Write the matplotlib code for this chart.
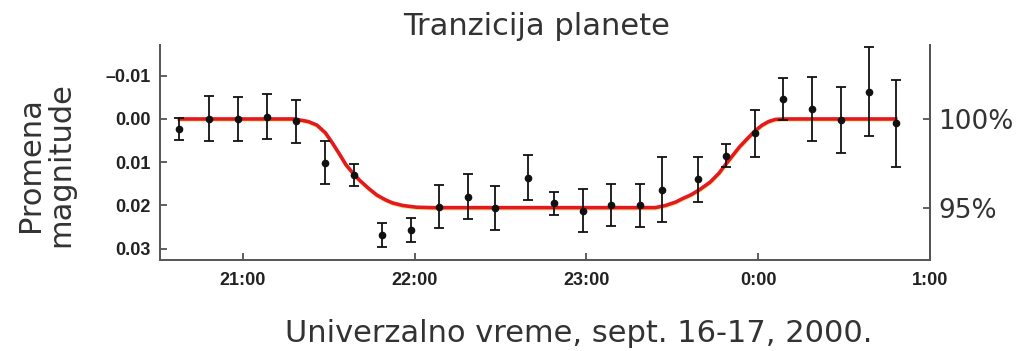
import matplotlib
matplotlib.use("Agg")
import matplotlib.pyplot as plt
import matplotlib.patheffects as pe

# Merenja: vreme (UT, sati; 24 = ponoc), promena magnitude, greska
vreme = [20.63, 20.80, 20.97, 21.14, 21.31, 21.48, 21.645, 21.81, 21.98, 22.14,
         22.31, 22.47, 22.66, 22.81, 22.98, 23.145, 23.31, 23.44, 23.65, 23.81,
         23.98, 24.145, 24.31, 24.48, 24.645, 24.80]
magnituda = [0.0023, 0.0, 0.0, -0.0005, 0.0005, 0.0101, 0.0130, 0.0268, 0.0256, 0.0203,
             0.0180, 0.0206, 0.0136, 0.0195, 0.0212, 0.0199, 0.0200, 0.0164, 0.0139, 0.0085,
             0.0033, -0.0046, -0.0023, 0.0002, -0.0063, 0.0010]
greska = [0.0025, 0.0052, 0.0050, 0.0052, 0.0050, 0.0050, 0.0025, 0.0028, 0.0028, 0.0050,
          0.0052, 0.0050, 0.0052, 0.0027, 0.0050, 0.0049, 0.0050, 0.0075, 0.0052, 0.0027,
          0.0054, 0.0049, 0.0074, 0.0076, 0.0103, 0.0100]

# Model tranzita (ocitane tacke krive)
model_t = [20.63, 21.30, 21.38, 21.43, 21.48, 21.52, 21.56, 21.60, 21.64, 21.68,
           21.73, 21.78, 21.83, 21.87, 21.93, 22.01, 22.10, 23.40, 23.46, 23.52,
           23.56, 23.61, 23.66, 23.72, 23.77, 23.81, 23.85, 23.89, 23.94, 23.98,
           24.02, 24.06, 24.10, 24.15, 24.80]
model_mag = [0.0, 0.0, 0.0006, 0.0014, 0.0032, 0.0055, 0.0080, 0.0106, 0.0125, 0.0142,
             0.0160, 0.0176, 0.0187, 0.0194, 0.0200, 0.0204, 0.0205, 0.0205, 0.0200, 0.0192,
             0.0184, 0.0175, 0.0163, 0.0146, 0.0126, 0.0105, 0.0085, 0.0065, 0.0044, 0.0028,
             0.0015, 0.0006, 0.0001, 0.0, 0.0]

x_ticks = [21, 22, 23, 24, 25]
x_labels = ["21:00", "22:00", "23:00", "0:00", "1:00"]
y_ticks = [-0.01, 0.0, 0.01, 0.02, 0.03]
y_labels = ["–0.01", "0.00", "0.01", "0.02", "0.03"]
desno_ticks = [0.0, 0.0205]
desno_labels = ["100%", "95%"]

fig = plt.figure(figsize=(10.21, 3.51), dpi=100)
ax = fig.add_axes([0.1567, 0.2593, 0.7542, 0.6125])

ax.plot(model_t, model_mag, color="#e3191f", lw=2.6, zorder=2,
        path_effects=[pe.Stroke(offset=(0.2, -0.8), linewidth=2.4,
                                foreground="#f8d870", alpha=0.8),
                      pe.Normal()])
ax.errorbar(vreme, magnituda, yerr=greska, fmt="o", color="#111111", ms=4.5,
            elinewidth=1.3, capsize=3.5, capthick=1.3, zorder=3)

ax.set_xlim(20.517, 25.0)
ax.set_ylim(0.0326, -0.0171)

tick_font = dict(family=["Liberation Sans", "DejaVu Sans"], weight="bold")
ax.set_xticks(x_ticks)
ax.set_xticklabels(x_labels, fontsize=13, color="#222222", **tick_font)
ax.set_yticks(y_ticks)
ax.set_yticklabels(y_labels, fontsize=13, color="#222222", **tick_font)
ax.tick_params(direction="in", length=5, width=1.2, color="#444444")
ax.tick_params(axis="x", pad=9)
ax.tick_params(axis="y", pad=7)

ax.spines["top"].set_visible(False)
for s in ["left", "bottom", "right"]:
    ax.spines[s].set_linewidth(1.4)
    ax.spines[s].set_color("#555555")

# Desna osa: relativni sjaj
ax2 = ax.twinx()
ax2.set_ylim(ax.get_ylim())
ax2.set_yticks(desno_ticks)
ax2.set_yticklabels(desno_labels, fontsize=19, color="#333333")
ax2.tick_params(direction="in", length=5, width=1.2, color="#444444", pad=6)
for s in ["top", "left", "bottom"]:
    ax2.spines[s].set_visible(False)
ax2.spines["right"].set_linewidth(1.4)
ax2.spines["right"].set_color("#555555")

fig.text(0.526, 0.900, "Tranzicija planete", ha="center", va="baseline",
         fontsize=22, color="#333333")
fig.text(0.567, 0.026, "Univerzalno vreme, sept. 16-17, 2000.", ha="center",
         va="baseline", fontsize=22, color="#333333")
fig.text(0.045, 0.530, "Promena\nmagnitude", ha="center", va="center",
         rotation=90, fontsize=22, color="#333333", multialignment="center",
         linespacing=1.05)

fig.savefig("out.png", dpi=100, facecolor="white")
